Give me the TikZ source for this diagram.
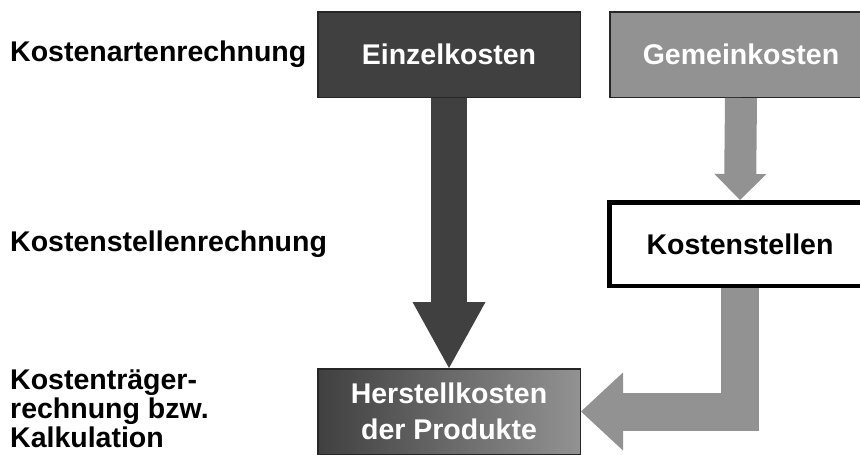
\documentclass[tikz,border=0pt]{standalone}
\usepackage{fontspec}
\setmainfont{Liberation Sans}
\usetikzlibrary{arrows.meta}
\definecolor{dunkel}{HTML}{404040}
\definecolor{hell}{HTML}{929292}
\definecolor{rand}{HTML}{262626}

\begin{document}
\begin{tikzpicture}[x=1pt,y=-1pt,
  every node/.style={font=\fontsize{28.5}{30}\selectfont\bfseries},
  box/.style={draw=rand, line width=1.5pt, minimum width=262.5pt, minimum height=85.5pt, inner sep=0pt, align=center, text=white},
  ebene/.style={anchor=west, align=left, inner sep=0pt}]
\useasboundingbox (0,0) rectangle (860,455);
\clip (0,0) rectangle (860,455);

\node[ebene] (L1) at (10,54.5) {Kostenartenrechnung};
\node[ebene] (L2) at (10,244) {Kostenstellenrechnung};
\node[ebene, font=\fontsize{28.5}{29}\selectfont\bfseries] (L3) at (10,409) {Kostenträger-\\rechnung bzw.\\Kalkulation};

\node[box, fill=dunkel] (EK) at (449,54.5) {Einzelkosten};
\node[box, fill=hell] (GK) at (741,54.5) {Gemeinkosten};
\node[box, draw=black, line width=4.5pt, minimum width=261.5pt, minimum height=83.5pt, fill=white, text=black] (KS) at (740,244) {Kostenstellen};
\node[box, left color=dunkel, right color=hell, font=\fontsize{28.5}{36}\selectfont\bfseries] (HK) at (449,411.5) {Herstellkosten\\der Produkte};

\draw[dunkel, line width=36pt, -{Triangle[width=73pt,length=66pt,line width=0pt]}] (EK.south) -- (HK.north);
\draw[hell, line width=32pt, -{Triangle[width=52pt,length=26pt,line width=0pt]}] (GK.south) -- (KS.north);
\draw[hell, line width=38pt, -{Triangle[width=78pt,length=42pt,line width=0pt]}] (KS.south) |- (HK.east);
\end{tikzpicture}
\end{document}
